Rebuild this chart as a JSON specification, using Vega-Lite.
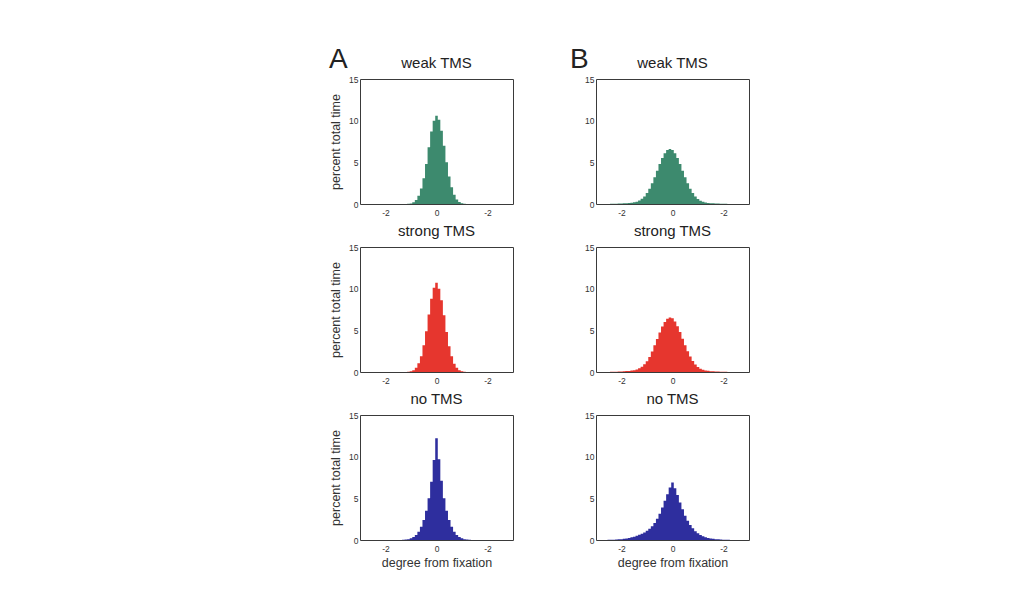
{
  "$schema": "https://vega.github.io/schema/vega-lite/v6.json",
  "background": "white",
  "padding": {"left": 329, "top": 45, "right": 10, "bottom": 10},
  "config": {
    "font": "Liberation Sans",
    "view": {"stroke": "#3a3a3a", "strokeWidth": 1},
    "axis": {"grid": false, "ticks": false, "domain": false, "labelFontSize": 8.5, "labelColor": "#333", "titleFontWeight": "normal", "titleFontSize": 12.5, "titleColor": "#333"},
    "title": {"fontWeight": "normal", "color": "#222"}
  },
  "datasets": {
    "aw": [
      {"x": -3, "y": 0}, {"x": -1.2, "y": 0}, {"x": -1.1, "y": 0.02}, {"x": -1.0, "y": 0.07}, {"x": -0.9, "y": 0.2}, {"x": -0.8, "y": 0.48}, {"x": -0.7, "y": 1.0}, {"x": -0.6, "y": 1.85}, {"x": -0.5, "y": 3.1}, {"x": -0.4, "y": 4.8}, {"x": -0.3, "y": 6.8}, {"x": -0.2, "y": 8.7}, {"x": -0.1, "y": 10.0}, {"x": 0, "y": 10.6}, {"x": 0.1, "y": 10.1}, {"x": 0.2, "y": 8.8}, {"x": 0.3, "y": 7.0}, {"x": 0.4, "y": 5.0}, {"x": 0.5, "y": 3.3}, {"x": 0.6, "y": 2.0}, {"x": 0.7, "y": 1.1}, {"x": 0.8, "y": 0.55}, {"x": 0.9, "y": 0.25}, {"x": 1.0, "y": 0.1}, {"x": 1.1, "y": 0.04}, {"x": 1.2, "y": 0}, {"x": 3, "y": 0}
    ],
    "as": [
      {"x": -3, "y": 0}, {"x": -1.2, "y": 0}, {"x": -1.1, "y": 0.03}, {"x": -1.0, "y": 0.08}, {"x": -0.9, "y": 0.22}, {"x": -0.8, "y": 0.5}, {"x": -0.7, "y": 1.05}, {"x": -0.6, "y": 1.9}, {"x": -0.5, "y": 3.2}, {"x": -0.4, "y": 4.9}, {"x": -0.3, "y": 6.9}, {"x": -0.2, "y": 8.8}, {"x": -0.1, "y": 10.1}, {"x": 0, "y": 10.7}, {"x": 0.1, "y": 10.0}, {"x": 0.2, "y": 8.6}, {"x": 0.3, "y": 6.8}, {"x": 0.4, "y": 4.8}, {"x": 0.5, "y": 3.1}, {"x": 0.6, "y": 1.9}, {"x": 0.7, "y": 1.0}, {"x": 0.8, "y": 0.5}, {"x": 0.9, "y": 0.22}, {"x": 1.0, "y": 0.09}, {"x": 1.1, "y": 0.03}, {"x": 1.2, "y": 0}, {"x": 3, "y": 0}
    ],
    "an": [
      {"x": -3, "y": 0}, {"x": -1.4, "y": 0}, {"x": -1.3, "y": 0.02}, {"x": -1.2, "y": 0.05}, {"x": -1.1, "y": 0.1}, {"x": -1.0, "y": 0.2}, {"x": -0.9, "y": 0.35}, {"x": -0.8, "y": 0.6}, {"x": -0.7, "y": 1.0}, {"x": -0.6, "y": 1.6}, {"x": -0.5, "y": 2.4}, {"x": -0.4, "y": 3.5}, {"x": -0.3, "y": 5.0}, {"x": -0.2, "y": 7.0}, {"x": -0.1, "y": 9.6}, {"x": 0, "y": 12.2}, {"x": 0.1, "y": 9.7}, {"x": 0.2, "y": 7.1}, {"x": 0.3, "y": 5.0}, {"x": 0.4, "y": 3.5}, {"x": 0.5, "y": 2.4}, {"x": 0.6, "y": 1.6}, {"x": 0.7, "y": 1.0}, {"x": 0.8, "y": 0.6}, {"x": 0.9, "y": 0.35}, {"x": 1.0, "y": 0.2}, {"x": 1.1, "y": 0.1}, {"x": 1.2, "y": 0.05}, {"x": 1.3, "y": 0.02}, {"x": 1.4, "y": 0}, {"x": 3, "y": 0}
    ],
    "bw": [
      {"x": -3, "y": 0}, {"x": -2.5, "y": 0}, {"x": -2.4, "y": 0.02}, {"x": -2.3, "y": 0.03}, {"x": -2.2, "y": 0.04}, {"x": -2.1, "y": 0.05}, {"x": -2.0, "y": 0.06}, {"x": -1.9, "y": 0.08}, {"x": -1.8, "y": 0.1}, {"x": -1.7, "y": 0.12}, {"x": -1.6, "y": 0.15}, {"x": -1.5, "y": 0.2}, {"x": -1.4, "y": 0.28}, {"x": -1.3, "y": 0.42}, {"x": -1.2, "y": 0.62}, {"x": -1.1, "y": 0.9}, {"x": -1.0, "y": 1.31}, {"x": -0.9, "y": 1.83}, {"x": -0.8, "y": 2.48}, {"x": -0.7, "y": 3.21}, {"x": -0.6, "y": 4.0}, {"x": -0.5, "y": 4.79}, {"x": -0.4, "y": 5.51}, {"x": -0.3, "y": 6.09}, {"x": -0.2, "y": 6.47}, {"x": -0.1, "y": 6.6}, {"x": 0, "y": 6.47}, {"x": 0.1, "y": 6.09}, {"x": 0.2, "y": 5.51}, {"x": 0.3, "y": 4.79}, {"x": 0.4, "y": 4.0}, {"x": 0.5, "y": 3.21}, {"x": 0.6, "y": 2.48}, {"x": 0.7, "y": 1.83}, {"x": 0.8, "y": 1.31}, {"x": 0.9, "y": 0.89}, {"x": 1.0, "y": 0.6}, {"x": 1.1, "y": 0.4}, {"x": 1.2, "y": 0.26}, {"x": 1.3, "y": 0.18}, {"x": 1.4, "y": 0.13}, {"x": 1.5, "y": 0.1}, {"x": 1.6, "y": 0.08}, {"x": 1.7, "y": 0.06}, {"x": 1.8, "y": 0.05}, {"x": 1.9, "y": 0.04}, {"x": 2.0, "y": 0.03}, {"x": 2.1, "y": 0.02}, {"x": 2.2, "y": 0}, {"x": 3, "y": 0}
    ],
    "bs": [
      {"x": -3, "y": 0}, {"x": -2.5, "y": 0}, {"x": -2.4, "y": 0.02}, {"x": -2.3, "y": 0.03}, {"x": -2.2, "y": 0.04}, {"x": -2.1, "y": 0.05}, {"x": -2.0, "y": 0.07}, {"x": -1.9, "y": 0.09}, {"x": -1.8, "y": 0.11}, {"x": -1.7, "y": 0.13}, {"x": -1.6, "y": 0.17}, {"x": -1.5, "y": 0.22}, {"x": -1.4, "y": 0.3}, {"x": -1.3, "y": 0.44}, {"x": -1.2, "y": 0.64}, {"x": -1.1, "y": 0.92}, {"x": -1.0, "y": 1.3}, {"x": -0.9, "y": 1.8}, {"x": -0.8, "y": 2.45}, {"x": -0.7, "y": 3.2}, {"x": -0.6, "y": 3.95}, {"x": -0.5, "y": 4.75}, {"x": -0.4, "y": 5.45}, {"x": -0.3, "y": 6.0}, {"x": -0.2, "y": 6.4}, {"x": -0.1, "y": 6.55}, {"x": 0, "y": 6.45}, {"x": 0.1, "y": 6.05}, {"x": 0.2, "y": 5.5}, {"x": 0.3, "y": 4.8}, {"x": 0.4, "y": 4.0}, {"x": 0.5, "y": 3.2}, {"x": 0.6, "y": 2.5}, {"x": 0.7, "y": 1.85}, {"x": 0.8, "y": 1.32}, {"x": 0.9, "y": 0.9}, {"x": 1.0, "y": 0.6}, {"x": 1.1, "y": 0.4}, {"x": 1.2, "y": 0.27}, {"x": 1.3, "y": 0.19}, {"x": 1.4, "y": 0.14}, {"x": 1.5, "y": 0.1}, {"x": 1.6, "y": 0.08}, {"x": 1.7, "y": 0.06}, {"x": 1.8, "y": 0.05}, {"x": 1.9, "y": 0.04}, {"x": 2.0, "y": 0.03}, {"x": 2.1, "y": 0.02}, {"x": 2.2, "y": 0}, {"x": 3, "y": 0}
    ],
    "bn": [
      {"x": -3, "y": 0}, {"x": -2.6, "y": 0}, {"x": -2.5, "y": 0.02}, {"x": -2.4, "y": 0.03}, {"x": -2.3, "y": 0.04}, {"x": -2.2, "y": 0.06}, {"x": -2.1, "y": 0.08}, {"x": -2.0, "y": 0.1}, {"x": -1.9, "y": 0.14}, {"x": -1.8, "y": 0.19}, {"x": -1.7, "y": 0.25}, {"x": -1.6, "y": 0.32}, {"x": -1.5, "y": 0.4}, {"x": -1.4, "y": 0.5}, {"x": -1.3, "y": 0.62}, {"x": -1.2, "y": 0.75}, {"x": -1.1, "y": 0.9}, {"x": -1.0, "y": 1.1}, {"x": -0.9, "y": 1.35}, {"x": -0.8, "y": 1.65}, {"x": -0.7, "y": 2.05}, {"x": -0.6, "y": 2.55}, {"x": -0.5, "y": 3.15}, {"x": -0.4, "y": 3.9}, {"x": -0.3, "y": 4.7}, {"x": -0.2, "y": 5.5}, {"x": -0.1, "y": 6.3}, {"x": 0, "y": 6.9}, {"x": 0.1, "y": 6.2}, {"x": 0.2, "y": 5.4}, {"x": 0.3, "y": 4.5}, {"x": 0.4, "y": 3.7}, {"x": 0.5, "y": 2.9}, {"x": 0.6, "y": 2.3}, {"x": 0.7, "y": 1.8}, {"x": 0.8, "y": 1.4}, {"x": 0.9, "y": 1.05}, {"x": 1.0, "y": 0.8}, {"x": 1.1, "y": 0.6}, {"x": 1.2, "y": 0.45}, {"x": 1.3, "y": 0.33}, {"x": 1.4, "y": 0.25}, {"x": 1.5, "y": 0.19}, {"x": 1.6, "y": 0.14}, {"x": 1.7, "y": 0.1}, {"x": 1.8, "y": 0.08}, {"x": 1.9, "y": 0.06}, {"x": 2.0, "y": 0.04}, {"x": 2.1, "y": 0.03}, {"x": 2.2, "y": 0.02}, {"x": 2.3, "y": 0}, {"x": 3, "y": 0}
    ]
  },
  "hconcat": [
    {
      "title": {"text": "A", "anchor": "start", "fontSize": 28, "offset": -18, "color": "#222"},
      "spacing": 6,
      "vconcat": [
        {
          "width": 153, "height": 125,
          "title": {"text": "weak TMS", "fontSize": 15, "offset": 4},
          "data": {"name": "aw"},
          "mark": {"type": "area", "interpolate": "step", "color": "#3d8a6e", "opacity": 1},
          "encoding": {
            "x": {"field": "x", "type": "quantitative", "scale": {"domain": [-3, 3], "nice": false}, "axis": {"values": [-2, 0, 2], "labelExpr": "datum.value == 0 ? '0' : '-2'", "title": null, "labelPadding": 4}},
            "y": {"field": "y", "type": "quantitative", "scale": {"domain": [0, 15], "nice": false}, "axis": {"values": [0, 5, 10, 15], "title": "percent total time", "labelPadding": 2, "titlePadding": 6}}
          }
        },
        {
          "width": 153, "height": 125,
          "title": {"text": "strong TMS", "fontSize": 15, "offset": 4},
          "data": {"name": "as"},
          "mark": {"type": "area", "interpolate": "step", "color": "#e6362e", "opacity": 1},
          "encoding": {
            "x": {"field": "x", "type": "quantitative", "scale": {"domain": [-3, 3], "nice": false}, "axis": {"values": [-2, 0, 2], "labelExpr": "datum.value == 0 ? '0' : '-2'", "title": null, "labelPadding": 4}},
            "y": {"field": "y", "type": "quantitative", "scale": {"domain": [0, 15], "nice": false}, "axis": {"values": [0, 5, 10, 15], "title": "percent total time", "labelPadding": 2, "titlePadding": 6}}
          }
        },
        {
          "width": 153, "height": 125,
          "title": {"text": "no TMS", "fontSize": 15, "offset": 4},
          "data": {"name": "an"},
          "mark": {"type": "area", "interpolate": "step", "color": "#2e2e9e", "opacity": 1},
          "encoding": {
            "x": {"field": "x", "type": "quantitative", "scale": {"domain": [-3, 3], "nice": false}, "axis": {"values": [-2, 0, 2], "labelExpr": "datum.value == 0 ? '0' : '-2'", "title": "degree from fixation", "labelPadding": 4, "titlePadding": 4}},
            "y": {"field": "y", "type": "quantitative", "scale": {"domain": [0, 15], "nice": false}, "axis": {"values": [0, 5, 10, 15], "title": "percent total time", "labelPadding": 2, "titlePadding": 6}}
          }
        }
      ]
    },
    {
      "title": {"text": "B", "anchor": "start", "fontSize": 28, "offset": -18, "dx": -14, "color": "#222"},
      "spacing": 6,
      "vconcat": [
        {
          "width": 153, "height": 125,
          "title": {"text": "weak TMS", "fontSize": 15, "offset": 4},
          "data": {"name": "bw"},
          "mark": {"type": "area", "interpolate": "step", "color": "#3d8a6e", "opacity": 1},
          "encoding": {
            "x": {"field": "x", "type": "quantitative", "scale": {"domain": [-3, 3], "nice": false}, "axis": {"values": [-2, 0, 2], "labelExpr": "datum.value == 0 ? '0' : '-2'", "title": null, "labelPadding": 4}},
            "y": {"field": "y", "type": "quantitative", "scale": {"domain": [0, 15], "nice": false}, "axis": {"values": [0, 5, 10, 15], "title": null, "labelPadding": 2}}
          }
        },
        {
          "width": 153, "height": 125,
          "title": {"text": "strong TMS", "fontSize": 15, "offset": 4},
          "data": {"name": "bs"},
          "mark": {"type": "area", "interpolate": "step", "color": "#e6362e", "opacity": 1},
          "encoding": {
            "x": {"field": "x", "type": "quantitative", "scale": {"domain": [-3, 3], "nice": false}, "axis": {"values": [-2, 0, 2], "labelExpr": "datum.value == 0 ? '0' : '-2'", "title": null, "labelPadding": 4}},
            "y": {"field": "y", "type": "quantitative", "scale": {"domain": [0, 15], "nice": false}, "axis": {"values": [0, 5, 10, 15], "title": null, "labelPadding": 2}}
          }
        },
        {
          "width": 153, "height": 125,
          "title": {"text": "no TMS", "fontSize": 15, "offset": 4},
          "data": {"name": "bn"},
          "mark": {"type": "area", "interpolate": "step", "color": "#2e2e9e", "opacity": 1},
          "encoding": {
            "x": {"field": "x", "type": "quantitative", "scale": {"domain": [-3, 3], "nice": false}, "axis": {"values": [-2, 0, 2], "labelExpr": "datum.value == 0 ? '0' : '-2'", "title": "degree from fixation", "labelPadding": 4, "titlePadding": 4}},
            "y": {"field": "y", "type": "quantitative", "scale": {"domain": [0, 15], "nice": false}, "axis": {"values": [0, 5, 10, 15], "title": null, "labelPadding": 2}}
          }
        }
      ]
    }
  ],
  "spacing": 56
}
